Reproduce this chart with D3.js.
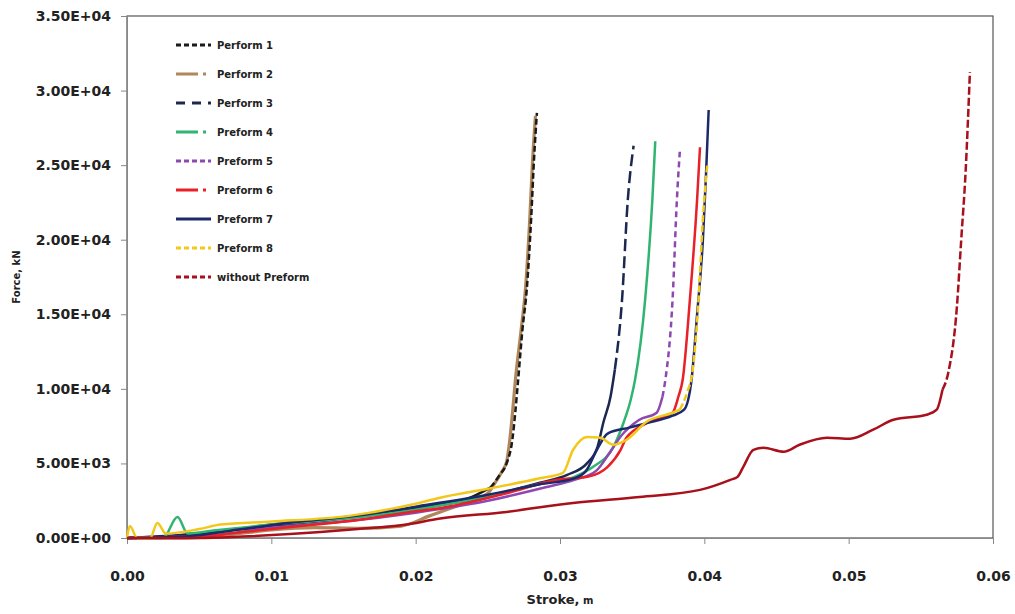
<!DOCTYPE html>
<html>
<head>
<meta charset="utf-8">
<script src="https://cdn.jsdelivr.net/npm/d3@7"></script>
<style>
  body { margin: 0; background: #fff; }
  text { font-family: "DejaVu Sans", Verdana, sans-serif; font-weight: bold; fill: #222; }
  .axis path, .axis line { stroke: #888; }
</style>
</head>
<body>
<svg id="chart" width="1015" height="614"></svg>
<script>
// values: [stroke (m), force (kN)]
var seriesNames = ["Perform 1", "Perform 2", "Perform 3", "Preform 4", "Preform 5",
                   "Preform 6", "Preform 7", "Preform 8", "without Preform"];

var perform1 = [[0,0],[0.003,100],[0.006,400],[0.01,800],[0.015,1300],[0.02,2000],[0.0235,2600],
  [0.0252,3400],[0.0258,4200],[0.0263,5000],[0.0267,6600],[0.0269,8400],[0.0271,10600],[0.0274,14000],
  [0.0277,16700],[0.028,21400],[0.0282,25400],[0.0284,28500]];
var perform2 = [[0,0],[0.004,0],[0.007,200],[0.01,550],[0.013,700],[0.016,650],[0.019,800],[0.021,1500],
  [0.023,2200],[0.025,3000],[0.0255,3700],[0.026,4500],[0.0263,5100],[0.0265,6400],[0.0267,8300],
  [0.0269,10500],[0.0273,13900],[0.0276,16600],[0.0279,21300],[0.0281,25300],[0.0283,28300]];
var perform3 = [[0,0],[0.005,300],[0.01,900],[0.015,1400],[0.02,2000],[0.025,2800],[0.0286,3700],
  [0.0305,4230],[0.0319,5040],[0.0326,6110],[0.033,7730],[0.0335,9470],[0.0338,11290],[0.0343,16000],
  [0.0347,22700],[0.0351,26300]];
var preform4 = [[0,0],[0.0025,0],[0.0035,1400],[0.0042,300],[0.006,500],[0.01,900],[0.015,1300],
  [0.02,1900],[0.025,2800],[0.029,3700],[0.031,4100],[0.0323,4770],[0.0337,6110],[0.0344,7730],
  [0.0349,9270],[0.0352,10610],[0.0359,16000],[0.0364,22700],[0.0366,26600]];
var preform5 = [[0,0],[0.006,200],[0.01,700],[0.015,1100],[0.02,1700],[0.025,2500],[0.029,3400],
  [0.031,3900],[0.0325,4500],[0.0335,5800],[0.0342,6800],[0.0355,7930],[0.0367,8400],[0.0371,9470],
  [0.0373,10610],[0.0378,16000],[0.0381,22700],[0.0383,25900]];
var preform6 = [[0,0],[0.004,0],[0.008,400],[0.012,800],[0.016,1200],[0.02,1800],[0.0217,2000],
  [0.0263,3000],[0.0298,3900],[0.0319,4100],[0.0333,4770],[0.0342,5910],[0.0346,6720],[0.036,7700],
  [0.0378,8400],[0.0382,9470],[0.0385,10610],[0.039,16000],[0.0395,22700],[0.0397,26200]];
var preform7 = [[0,0],[0.004,100],[0.008,600],[0.012,1100],[0.016,1500],[0.02,2100],[0.025,2900],
  [0.0286,3600],[0.031,4000],[0.0318,4500],[0.0326,6000],[0.0333,7000],[0.0348,7400],[0.036,7700],
  [0.0378,8200],[0.0386,8600],[0.0391,10500],[0.0395,15000],[0.0399,20000],[0.0401,24000],[0.0403,28700]];
var preform8 = [[0,0],[0.0002,800],[0.0007,0],[0.0016,0],[0.0021,1000],[0.0027,300],[0.005,600],
  [0.0065,900],[0.01,1100],[0.0155,1500],[0.02,2300],[0.0217,2700],[0.025,3300],[0.0286,4000],
  [0.0302,4370],[0.0309,5900],[0.0319,6780],[0.0328,6720],[0.0337,6250],[0.0346,6580],[0.036,7790],
  [0.0378,8400],[0.0383,8600],[0.0388,9740],[0.0392,11300],[0.0396,16000],[0.0399,21400],[0.0402,25000]];
var withoutPreform = [[0,0],[0.005,0],[0.008,100],[0.0134,400],[0.016,600],[0.0191,870],[0.0217,1300],
  [0.0263,1750],[0.0309,2350],[0.0355,2750],[0.0397,3225],[0.0418,3900],[0.0423,4100],[0.0427,4770],
  [0.0434,5910],[0.0441,6050],[0.0455,5780],[0.0466,6250],[0.0485,6720],[0.0501,6650],[0.0517,7260],
  [0.0531,7930],[0.0554,8260],[0.0561,8600],[0.0565,9940],[0.0569,11085],[0.0575,15520],[0.0578,20020],
  [0.0581,24520],[0.0584,31240]];

var seriesValues = [perform1, perform2, perform3, preform4, preform5, preform6, preform7, preform8, withoutPreform];

var xTicks = [0, 0.01, 0.02, 0.03, 0.04, 0.05, 0.06];
var yTicks = [0, 5000, 10000, 15000, 20000, 25000, 30000, 35000];

// styles
var colors = ["#1a1a1a", "#b0875a", "#1d2850", "#2fb472", "#8e48b0", "#e82028", "#1c2a6c", "#f2c81c", "#a8101c"];
var lineDash = ["6,3", null, "12,5", null, "6,4", null, null, "7,3", "8,3"];
// the dense low part of each dashed curve looks solid in the original, dashes only show on the steep rise
var dashFrom = [3500, null, 13000, null, 9500, null, null, 9000, 10000];
var legendDash = ["5,3", "22,5,3,100", "9,7", "22,5,3,100", "5,3", "22,5,3,100", null, "5,3", "5,3"];
var drawOrder = [1, 0, 2, 3, 4, 5, 6, 7, 8];

var svg = d3.select("#chart");
var margin = {top: 16, right: 22, bottom: 76, left: 127},
    width = +svg.attr("width") - margin.left - margin.right,
    height = +svg.attr("height") - margin.top - margin.bottom;

var g = svg.append("g")
    .attr("transform", "translate(" + margin.left + "," + margin.top + ")");

var x = d3.scaleLinear().domain([0, 0.06]).range([0, width]);
var y = d3.scaleLinear().domain([0, 35000]).range([height, 0]);

function expFormat(v) {
  var parts = v.toExponential(2).split("e");
  var e = +parts[1];
  return parts[0] + "E" + (e < 0 ? "-" : "+") + (Math.abs(e) < 10 ? "0" : "") + Math.abs(e);
}

// plot frame
g.append("rect")
    .attr("width", width)
    .attr("height", height)
    .attr("fill", "none")
    .attr("stroke", "#555")
    .attr("stroke-width", 1.2);

g.append("g")
    .attr("class", "axis axis--x")
    .attr("transform", "translate(0," + height + ")")
    .call(d3.axisBottom(x).tickValues(xTicks).tickFormat(d3.format(".2f")).tickSize(6).tickPadding(27))
    .call(function(s) { s.selectAll("text").style("font-size", "14px"); });

g.append("g")
    .attr("class", "axis axis--y")
    .call(d3.axisLeft(y).tickValues(yTicks).tickFormat(expFormat).tickSize(6).tickPadding(10))
    .call(function(s) { s.selectAll("text").style("font-size", "14px"); });

var line = d3.line()
    .x(function(d) { return x(d[0]); })
    .y(function(d) { return y(d[1]); })
    .curve(d3.curveMonotoneX);

// split a series into a solid low part and a dashed upper part
function pieces(i) {
  var pts = seriesValues[i];
  if (dashFrom[i] == null) return [{i: i, pts: pts, dash: null}];
  var k = pts.findIndex(function(d) { return d[1] > dashFrom[i]; });
  if (k < 1) return [{i: i, pts: pts, dash: lineDash[i]}];
  return [{i: i, pts: pts.slice(0, k), dash: null},
          {i: i, pts: pts.slice(k - 1), dash: lineDash[i]}];
}

var segs = [];
drawOrder.forEach(function(i) { segs = segs.concat(pieces(i)); });

g.append("g").selectAll("path")
    .data(segs)
  .enter().append("path")
    .attr("d", function(s) { return line(s.pts); })
    .attr("fill", "none")
    .attr("stroke", function(s) { return colors[s.i]; })
    .attr("stroke-width", function(s) { return s.i === 1 ? 3.2 : 2.5; })
    .attr("stroke-dasharray", function(s) { return s.dash; })
    .attr("stroke-linejoin", "round");

// legend
var legend = g.append("g").selectAll("g")
    .data(seriesNames)
  .enter().append("g")
    .attr("transform", function(d, i) { return "translate(" + (176 - margin.left) + "," + (45 + i * 29 - margin.top) + ")"; });

legend.append("line")
    .attr("x1", 0).attr("x2", 35)
    .attr("stroke", function(d, i) { return colors[i]; })
    .attr("stroke-width", 3)
    .attr("stroke-dasharray", function(d, i) { return legendDash[i]; });

legend.append("text")
    .attr("x", 41)
    .attr("dy", "0.35em")
    .style("font-size", "10px")
    .text(function(d) { return d; });

// axis titles
var xt = svg.append("text")
    .attr("x", margin.left + width / 2)
    .attr("y", 604)
    .attr("text-anchor", "middle")
    .style("font-size", "13px");
xt.append("tspan").text("Stroke,");
xt.append("tspan").style("font-size", "10px").text(" m");

svg.append("text")
    .attr("transform", "translate(20," + (margin.top + height / 2) + ") rotate(-90)")
    .attr("text-anchor", "middle")
    .style("font-size", "10px")
    .text("Force, kN");
</script>
</body>
</html>
